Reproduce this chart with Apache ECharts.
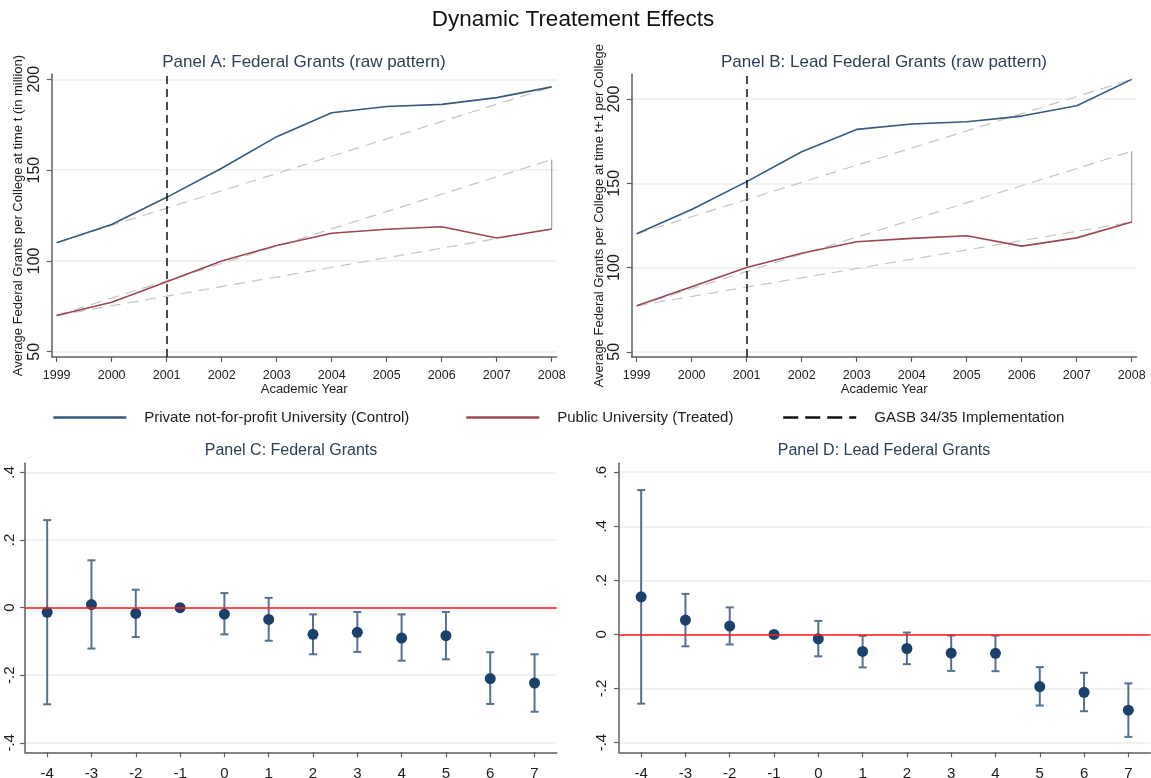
<!DOCTYPE html>
<html>
<head>
<meta charset="utf-8">
<title>Dynamic Treatement Effects</title>
<script src="https://cdn.jsdelivr.net/npm/echarts@6/dist/echarts.min.js"></script>
<style>
  html, body { margin: 0; padding: 0; background: #ffffff; }
  #chart { width: 1151px; height: 778px; }
</style>
</head>
<body>
<div id="chart"></div>
<script>
// Academic years and raw averages (in million) per college
const years = [1999, 2000, 2001, 2002, 2003, 2004, 2005, 2006, 2007, 2008];
const privateA = [110, 120, 135, 151, 168.4, 181.6, 185, 186.2, 189.9, 195.8];
const publicA  = [70, 77.2, 88.5, 100, 108.5, 115.2, 117.4, 118.8, 112.6, 117.6];
const privateB = [120, 134.5, 151, 168.7, 182, 185.2, 186.5, 189.9, 196, 211.7];
const publicB  = [77.3, 88.6, 100, 108.5, 115.3, 117.3, 118.9, 112.7, 117.6, 127];
const implementationYear = 2001;

// Event-study estimates with 95% confidence bounds
const eventTime = [-4, -3, -2, -1, 0, 1, 2, 3, 4, 5, 6, 7];
const estC = [-0.014, 0.009, -0.017, 0, -0.019, -0.035, -0.079, -0.073, -0.090, -0.083, -0.210, -0.223];
const loC  = [-0.286, -0.121, -0.087, 0, -0.079, -0.098, -0.138, -0.131, -0.157, -0.153, -0.285, -0.308];
const hiC  = [0.259, 0.140, 0.053, 0, 0.043, 0.029, -0.020, -0.013, -0.020, -0.013, -0.132, -0.138];
const estD = [0.139, 0.053, 0.031, 0, -0.016, -0.063, -0.052, -0.069, -0.070, -0.193, -0.214, -0.280];
const loD  = [-0.256, -0.044, -0.037, 0, -0.081, -0.122, -0.110, -0.135, -0.136, -0.263, -0.284, -0.379];
const hiD  = [0.534, 0.150, 0.100, 0, 0.050, -0.005, 0.007, -0.004, -0.004, -0.121, -0.142, -0.181];

// Tick labels
const ticksLevel = [50, 100, 150, 200];
const ticksC = [-0.4, -0.2, 0, 0.2, 0.4];
const ticksD = [-0.4, -0.2, 0, 0.2, 0.4, 0.6];

const NAME_PRIVATE = 'Private not-for-profit University (Control)';
const NAME_PUBLIC = 'Public University (Treated)';
const NAME_GASB = 'GASB 34/35 Implementation';

const FONT = '"Liberation Sans", Arial, Helvetica, sans-serif';
const BLUE = '#36597d';
const RED = '#9b4751';
const NAVY = '#1a416b';
const CI = '#56718f';
const AXIS = '#5f5f5f';
const GRID = '#e9f1f2';
const TEXT = '#1c1c1c';
const TITLE = '#2c3e58';

const zip = (xs, ys) => xs.map((x, i) => [x, ys[i]]);
const last = a => a[a.length - 1];
const decimal = v => {
  const r = Math.round(v * 10) / 10;
  return String(r).replace('0.', '.');
};

function levelAxisX(gridIndex) {
  return {
    type: 'value', gridIndex,
    min: 1998.91, max: 2008.09,
    axisLine: { show: true, onZero: false, lineStyle: { color: AXIS, width: 1.5 } },
    axisTick: { show: true, length: 5, lineStyle: { color: AXIS, width: 1.2 }, customValues: years },
    axisLabel: { customValues: years, formatter: v => String(v), color: TEXT, fontFamily: FONT, fontSize: 12.5, margin: 12 },
    splitLine: { show: false },
    name: 'Academic Year', nameLocation: 'middle', nameGap: 23,
    nameTextStyle: { color: TEXT, fontFamily: FONT, fontSize: 13 }
  };
}

function levelAxisY(gridIndex, min, max, title, nameGap) {
  return {
    type: 'value', gridIndex, min, max,
    axisLine: { show: true, onZero: false, lineStyle: { color: AXIS, width: 1.5 } },
    axisTick: { show: true, length: 5, lineStyle: { color: AXIS, width: 1.2 }, customValues: ticksLevel },
    axisLabel: { customValues: ticksLevel, rotate: 90, color: TEXT, fontFamily: FONT, fontSize: 16, margin: 9 },
    splitLine: { show: true, lineStyle: { color: GRID, width: 1.5 } },
    name: title, nameLocation: 'middle', nameGap,
    nameTextStyle: { color: TEXT, fontFamily: FONT, fontSize: 13 }
  };
}

function eventAxisX(gridIndex) {
  return {
    type: 'value', gridIndex, min: -4.5, max: 7.5,
    axisLine: { show: true, onZero: false, lineStyle: { color: AXIS, width: 1.5 } },
    axisTick: { show: true, length: 5, lineStyle: { color: AXIS, width: 1.2 }, customValues: eventTime },
    axisLabel: { customValues: eventTime, color: TEXT, fontFamily: FONT, fontSize: 15, margin: 14 },
    splitLine: { show: false }
  };
}

function eventAxisY(gridIndex, min, max, ticks, margin) {
  return {
    type: 'value', gridIndex, min, max,
    axisLine: { show: true, onZero: false, lineStyle: { color: AXIS, width: 1.5 } },
    axisTick: { show: true, length: 5, lineStyle: { color: AXIS, width: 1.2 }, customValues: ticks },
    axisLabel: { customValues: ticks, rotate: 90, color: TEXT, fontFamily: FONT, fontSize: 15, margin, formatter: decimal },
    splitLine: { show: true, lineStyle: { color: GRID, width: 1.5 } }
  };
}

// Raw pattern: both groups, straight-line trends, the counterfactual path and the 2001 marker
function levelSeries(idx, priv, pub) {
  const slope = last(priv) - priv[0];
  const counterfactualEnd = pub[0] + slope;
  const trendStyle = { color: '#c4c4c4', width: 1.2, type: [11, 7] };
  const base = { type: 'line', xAxisIndex: idx, yAxisIndex: idx, symbol: 'none', silent: true, animation: false };
  return [
    Object.assign({}, base, { data: [[years[0], priv[0]], [last(years), last(priv)]], lineStyle: trendStyle, z: 1 }),
    Object.assign({}, base, { data: [[years[0], pub[0]], [last(years), last(pub)]], lineStyle: trendStyle, z: 1 }),
    Object.assign({}, base, { data: [[years[0], pub[0]], [last(years), counterfactualEnd]], lineStyle: trendStyle, z: 1 }),
    Object.assign({}, base, { data: [[last(years), last(pub)], [last(years), counterfactualEnd]], lineStyle: { color: '#8e8e8e', width: 1 }, z: 1 }),
    Object.assign({}, base, { name: NAME_PRIVATE, data: zip(years, priv), lineStyle: { color: BLUE, width: 1.6 }, itemStyle: { color: BLUE }, z: 3 }),
    Object.assign({}, base, { name: NAME_PUBLIC, data: zip(years, pub), lineStyle: { color: RED, width: 1.6 }, itemStyle: { color: RED }, z: 3 }),
    Object.assign({}, base, {
      name: NAME_GASB, data: [],
      lineStyle: { color: '#111111', width: 2, type: [15, 7] }, itemStyle: { color: '#111111' }, z: 4,
      markLine: {
        silent: true, symbol: ['none', 'none'], animation: false,
        label: { show: false },
        lineStyle: { color: '#111111', width: 1.5, type: [8, 5] },
        data: [{ xAxis: implementationYear }]
      }
    })
  ];
}

// Event study: confidence intervals with caps, point estimates and the zero reference
function eventSeries(idx, est, lo, hi) {
  return [
    {
      type: 'custom', xAxisIndex: idx, yAxisIndex: idx, silent: true, animation: false, z: 2,
      data: eventTime.map((t, i) => [t, lo[i], hi[i]]),
      renderItem: (params, api) => {
        if (api.value(1) === api.value(2)) return null;
        const a = api.coord([api.value(0), api.value(1)]);
        const b = api.coord([api.value(0), api.value(2)]);
        const w = 4;
        const style = { stroke: CI, lineWidth: 2, fill: null };
        return {
          type: 'group',
          children: [
            { type: 'line', shape: { x1: a[0], y1: a[1], x2: b[0], y2: b[1] }, style },
            { type: 'line', shape: { x1: a[0] - w, y1: a[1], x2: a[0] + w, y2: a[1] }, style },
            { type: 'line', shape: { x1: b[0] - w, y1: b[1], x2: b[0] + w, y2: b[1] }, style }
          ]
        };
      },
      markLine: {
        silent: true, symbol: ['none', 'none'], animation: false,
        label: { show: false },
        lineStyle: { color: '#ff1a1a', width: 1.5, type: 'solid' },
        data: [{ yAxis: 0 }]
      }
    },
    {
      type: 'scatter', xAxisIndex: idx, yAxisIndex: idx, silent: true, animation: false, z: 4,
      symbol: 'circle', symbolSize: 11,
      itemStyle: { color: NAVY, opacity: 1 },
      data: zip(eventTime, est)
    }
  ];
}

const legendCommon = {
  top: 410, padding: 0, itemWidth: 73, itemHeight: 14, selectedMode: false,
  itemStyle: { opacity: 0 },
  lineStyle: { width: 2.5 },
  textStyle: { color: TEXT, fontFamily: FONT, fontSize: 15, padding: [0, 0, 0, 13] }
};

const option = {
  animation: false,
  backgroundColor: '#ffffff',
  grid: [
    { left: 51.7, right: 594.3, top: 74, bottom: 421, outerBoundsMode: 'none' },
    { left: 631.7, right: 14.3, top: 74.3, bottom: 421, outerBoundsMode: 'none' },
    { left: 25, right: 594.3, top: 463.3, bottom: 25.7, outerBoundsMode: 'none' },
    { left: 619, right: 0.5, top: 463.3, bottom: 25.7, outerBoundsMode: 'none' }
  ],
  xAxis: [levelAxisX(0), levelAxisX(1), eventAxisX(2), eventAxisX(3)],
  yAxis: [
    levelAxisY(0, 47.1, 202.9, 'Average Federal Grants per College at time t (in million)', 27),
    levelAxisY(1, 46.9, 214.7, 'Average Federal Grants per College at time t+1 per College', 21),
    eventAxisY(2, -0.428, 0.427, ticksC, 7.5),
    eventAxisY(3, -0.436, 0.633, ticksD, 10)
  ],
  legend: [
    Object.assign({}, legendCommon, { left: 52, data: [NAME_PRIVATE] }),
    Object.assign({}, legendCommon, { left: 465, data: [NAME_PUBLIC] }),
    Object.assign({}, legendCommon, { left: 782, data: [NAME_GASB] })
  ],
  graphic: [
    { type: 'text', x: 573, y: 20, style: { text: 'Dynamic Treatement Effects', font: '22.5px ' + FONT, fill: '#111111', textAlign: 'center', textVerticalAlign: 'middle' } },
    { type: 'text', x: 304, y: 62, style: { text: 'Panel A: Federal Grants (raw pattern)', font: '17px ' + FONT, fill: TITLE, textAlign: 'center', textVerticalAlign: 'middle' } },
    { type: 'text', x: 884, y: 62, style: { text: 'Panel B: Lead Federal Grants (raw pattern)', font: '17px ' + FONT, fill: TITLE, textAlign: 'center', textVerticalAlign: 'middle' } },
    { type: 'text', x: 291, y: 451, style: { text: 'Panel C: Federal Grants', font: '16px ' + FONT, fill: TITLE, textAlign: 'center', textVerticalAlign: 'middle' } },
    { type: 'text', x: 884, y: 451, style: { text: 'Panel D: Lead Federal Grants', font: '16px ' + FONT, fill: TITLE, textAlign: 'center', textVerticalAlign: 'middle' } }
  ],
  series: [].concat(
    levelSeries(0, privateA, publicA),
    levelSeries(1, privateB, publicB),
    eventSeries(2, estC, loC, hiC),
    eventSeries(3, estD, loD, hiD)
  )
};

const chart = echarts.init(document.getElementById('chart'), null, { renderer: 'canvas' });
chart.setOption(option);
</script>
</body>
</html>
